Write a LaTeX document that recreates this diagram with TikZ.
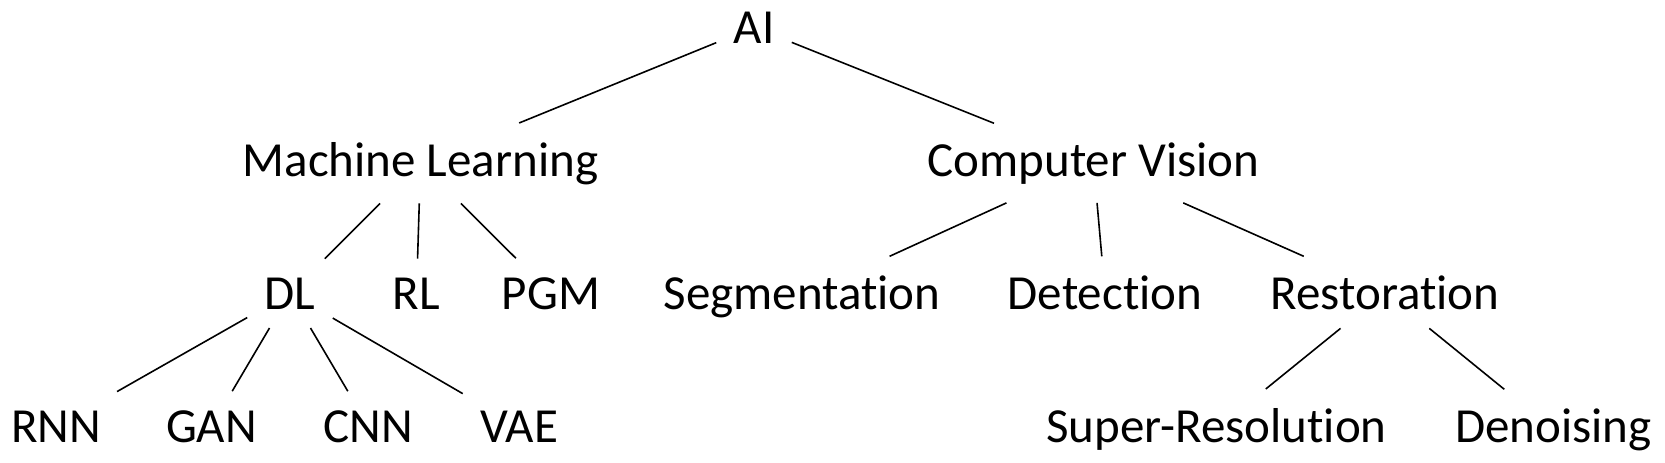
\documentclass[tikz,border=0pt]{standalone}
\usepackage{fontspec}
\setmainfont{Carlito}[Ligatures=NoCommon]
\begin{document}
\begin{tikzpicture}[x=0.5pt,y=-0.5pt,
  lbl/.style={font=\fontsize{24.5}{29}\selectfont, anchor=base, inner xsep=8.5pt, inner ysep=9.3pt},
  edge/.style={line width=0.8pt}]
\useasboundingbox (0,0) rectangle (1665,462);
% level 0
\node[lbl] (ai) at (754,43) {AI};
% level 1
\node[lbl] (ml) at (420.5,176) {Machine Learning};
\node[lbl] (cv) at (1093.5,176) {Computer Vision};
% level 2
\node[lbl] (dl) at (290,309) {DL};
\node[lbl] (rl) at (416.5,309) {RL};
\node[lbl] (pgm) at (551,309) {PGM};
\node[lbl] (seg) at (802,309) {Segmentation};
\node[lbl] (det) at (1105,309) {Detection};
\node[lbl] (res) at (1385,309) {Restoration};
% level 3
\node[lbl] (rnn) at (56,442) {RNN};
\node[lbl] (gan) at (211.5,442) {GAN};
\node[lbl] (cnn) at (368.5,442) {CNN};
\node[lbl] (vae) at (519,442) {VAE};
\node[lbl] (sr) at (1216.5,442) {Super-Resolution};
\node[lbl] (den) at (1553.5,442) {Denoising};
% edges
\draw[edge] (ai) -- (ml);
\draw[edge] (ai) -- (cv);
\draw[edge] (ml) -- (dl);
\draw[edge] (ml) -- (rl);
\draw[edge] (ml) -- (pgm);
\draw[edge] (cv) -- (seg);
\draw[edge] (cv) -- (det);
\draw[edge] (cv) -- (res);
\draw[edge] (dl) -- (rnn);
\draw[edge] (dl) -- (gan);
\draw[edge] (dl) -- (cnn);
\draw[edge] (dl) -- (vae);
\draw[edge] (res) -- (sr);
\draw[edge] (res) -- (den);
\end{tikzpicture}
\end{document}
